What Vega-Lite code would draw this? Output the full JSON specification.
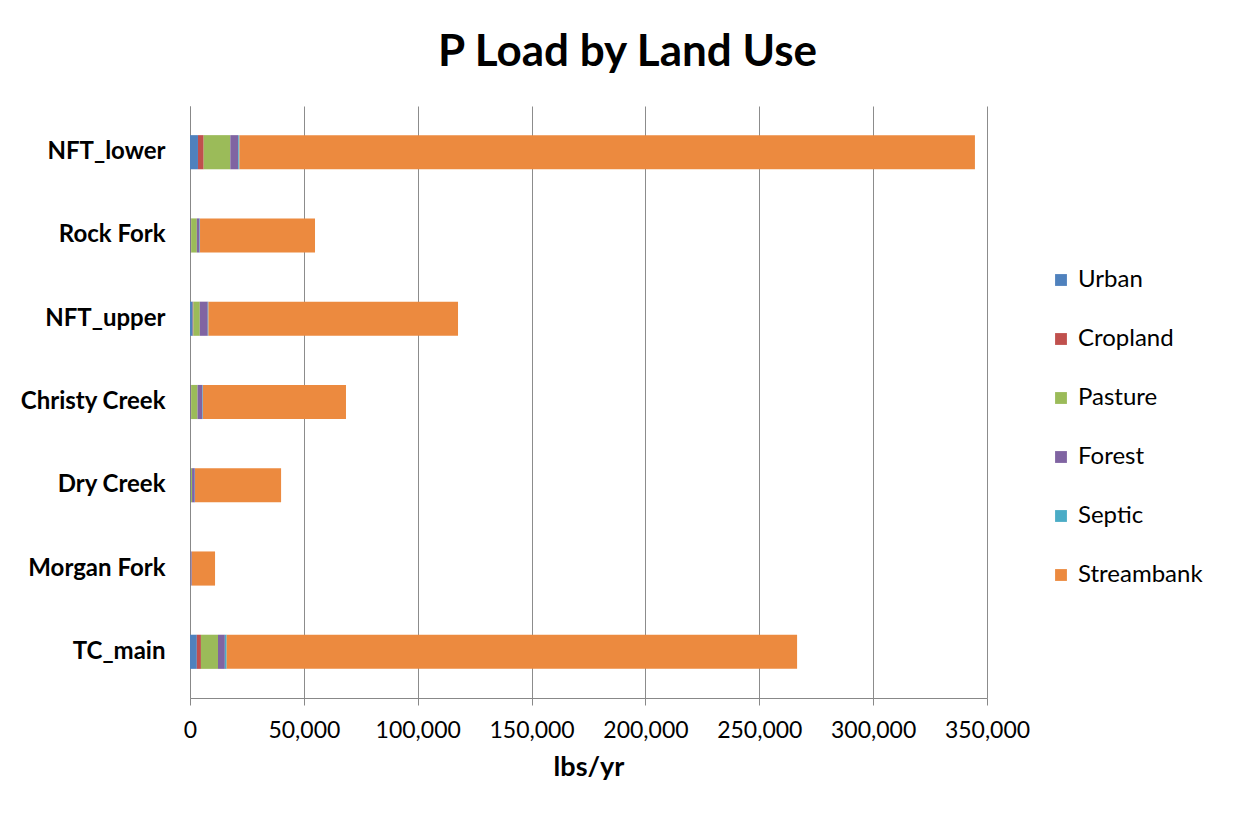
{
  "$schema": "https://vega.github.io/schema/vega-lite/v6.json",
  "width": 797,
  "height": 592,
  "autosize": {"type": "none"},
  "padding": {"left": 190, "top": 106, "right": 262, "bottom": 126},
  "background": "white",
  "title": {
    "text": "P Load by Land Use",
    "font": "Lato",
    "fontSize": 44,
    "fontWeight": "bold",
    "color": "#000000",
    "anchor": "middle",
    "frame": "group",
    "dx": 39,
    "offset": 31
  },
  "data": {
    "values": [
      {"site": "NFT_lower", "use": "Urban", "o": 1, "load": 3500},
      {"site": "NFT_lower", "use": "Cropland", "o": 2, "load": 2500},
      {"site": "NFT_lower", "use": "Pasture", "o": 3, "load": 11700},
      {"site": "NFT_lower", "use": "Forest", "o": 4, "load": 3500},
      {"site": "NFT_lower", "use": "Septic", "o": 5, "load": 500},
      {"site": "NFT_lower", "use": "Streambank", "o": 6, "load": 323000},
      {"site": "Rock Fork", "use": "Urban", "o": 1, "load": 300},
      {"site": "Rock Fork", "use": "Cropland", "o": 2, "load": 200},
      {"site": "Rock Fork", "use": "Pasture", "o": 3, "load": 2500},
      {"site": "Rock Fork", "use": "Forest", "o": 4, "load": 1200},
      {"site": "Rock Fork", "use": "Septic", "o": 5, "load": 200},
      {"site": "Rock Fork", "use": "Streambank", "o": 6, "load": 50500},
      {"site": "NFT_upper", "use": "Urban", "o": 1, "load": 1200},
      {"site": "NFT_upper", "use": "Cropland", "o": 2, "load": 300},
      {"site": "NFT_upper", "use": "Pasture", "o": 3, "load": 2800},
      {"site": "NFT_upper", "use": "Forest", "o": 4, "load": 3500},
      {"site": "NFT_upper", "use": "Septic", "o": 5, "load": 300},
      {"site": "NFT_upper", "use": "Streambank", "o": 6, "load": 109600},
      {"site": "Christy Creek", "use": "Urban", "o": 1, "load": 300},
      {"site": "Christy Creek", "use": "Cropland", "o": 2, "load": 200},
      {"site": "Christy Creek", "use": "Pasture", "o": 3, "load": 2800},
      {"site": "Christy Creek", "use": "Forest", "o": 4, "load": 2200},
      {"site": "Christy Creek", "use": "Septic", "o": 5, "load": 200},
      {"site": "Christy Creek", "use": "Streambank", "o": 6, "load": 62800},
      {"site": "Dry Creek", "use": "Urban", "o": 1, "load": 300},
      {"site": "Dry Creek", "use": "Cropland", "o": 2, "load": 100},
      {"site": "Dry Creek", "use": "Pasture", "o": 3, "load": 500},
      {"site": "Dry Creek", "use": "Forest", "o": 4, "load": 1200},
      {"site": "Dry Creek", "use": "Septic", "o": 5, "load": 100},
      {"site": "Dry Creek", "use": "Streambank", "o": 6, "load": 37800},
      {"site": "Morgan Fork", "use": "Urban", "o": 1, "load": 100},
      {"site": "Morgan Fork", "use": "Cropland", "o": 2, "load": 50},
      {"site": "Morgan Fork", "use": "Pasture", "o": 3, "load": 100},
      {"site": "Morgan Fork", "use": "Forest", "o": 4, "load": 500},
      {"site": "Morgan Fork", "use": "Septic", "o": 5, "load": 50},
      {"site": "Morgan Fork", "use": "Streambank", "o": 6, "load": 10200},
      {"site": "TC_main", "use": "Urban", "o": 1, "load": 3000},
      {"site": "TC_main", "use": "Cropland", "o": 2, "load": 1800},
      {"site": "TC_main", "use": "Pasture", "o": 3, "load": 7500},
      {"site": "TC_main", "use": "Forest", "o": 4, "load": 3000},
      {"site": "TC_main", "use": "Septic", "o": 5, "load": 800},
      {"site": "TC_main", "use": "Streambank", "o": 6, "load": 250500}
    ]
  },
  "mark": {"type": "bar"},
  "encoding": {
    "y": {
      "field": "site",
      "type": "nominal",
      "sort": ["NFT_lower", "Rock Fork", "NFT_upper", "Christy Creek", "Dry Creek", "Morgan Fork", "TC_main"],
      "scale": {"paddingInner": 0.59, "paddingOuter": 0.35},
      "axis": {
        "title": null,
        "labelFont": "Lato",
        "labelFontSize": 24,
        "labelFontWeight": "bold",
        "labelColor": "#000000",
        "labelPadding": 25,
        "domainColor": "#888888",
        "ticks": false,
        "grid": false
      }
    },
    "x": {
      "field": "load",
      "type": "quantitative",
      "stack": "zero",
      "scale": {"domain": [0, 350000], "nice": false},
      "axis": {
        "title": "lbs/yr",
        "titleFont": "Lato",
        "titleFontSize": 27,
        "titleFontWeight": "bold",
        "titleColor": "#000000",
        "titlePadding": 12,
        "values": [0, 50000, 100000, 150000, 200000, 250000, 300000, 350000],
        "format": ",d",
        "labelFont": "Lato",
        "labelFontSize": 23,
        "labelColor": "#000000",
        "labelPadding": 14,
        "labelOverlap": false,
        "labelFlush": false,
        "ticks": true,
        "tickSize": 7,
        "tickColor": "#888888",
        "domain": true,
        "domainColor": "#888888",
        "grid": true,
        "gridColor": "#8c8c8c",
        "gridWidth": 1
      }
    },
    "color": {
      "field": "use",
      "type": "nominal",
      "scale": {
        "domain": ["Urban", "Cropland", "Pasture", "Forest", "Septic", "Streambank"],
        "range": ["#4f81bd", "#c0504d", "#9bbb59", "#8064a2", "#4bacc6", "#ec8a3f"]
      },
      "legend": {
        "title": null,
        "orient": "none",
        "legendX": 859,
        "legendY": 162,
        "labelFont": "Lato",
        "labelFontSize": 24,
        "labelColor": "#000000",
        "symbolType": "square",
        "symbolSize": 140,
        "symbolStrokeWidth": 0,
        "rowPadding": 35,
        "labelOffset": 5
      }
    },
    "order": {"field": "o", "type": "quantitative"}
  },
  "config": {"view": {"stroke": null}}
}
